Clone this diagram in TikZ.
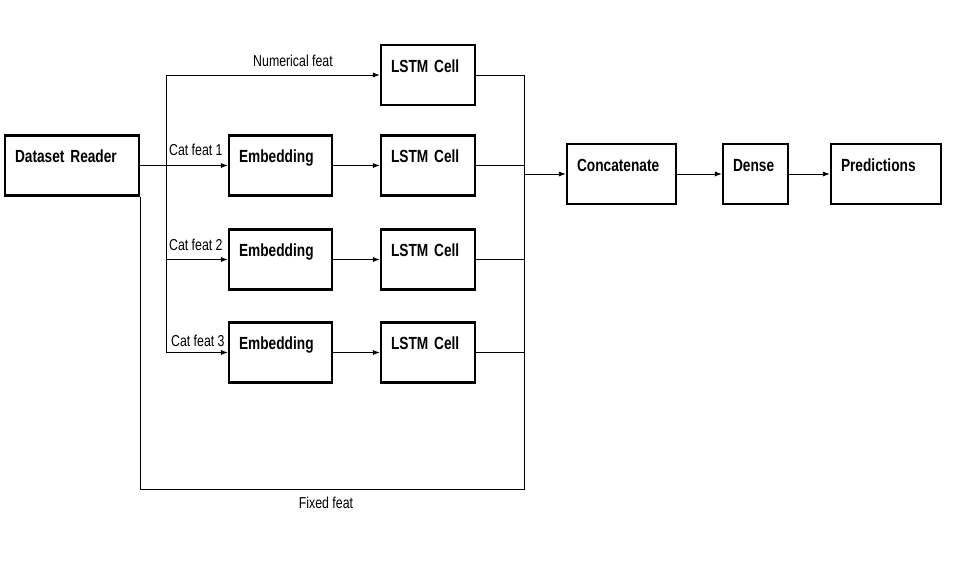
\documentclass[tikz,border=0pt]{standalone}
\usepackage{fontspec}
\setmainfont{Liberation Sans}[FakeStretch=0.78]
\usetikzlibrary{arrows.meta}
\tikzset{
  box/.style={draw,line width=1.4pt,rectangle,align=left,font=\bfseries\fontsize{10}{12}\selectfont,
    inner xsep=0.2cm,inner ysep=0pt,text height=0.54cm,text depth=0.66cm},
  lbl/.style={font=\fontsize{9}{10.5}\selectfont,inner sep=1pt},
  arr/.style={-{Latex[length=4pt,width=3pt]},line width=0.5pt},
  wire/.style={line width=0.5pt}
}
\begin{document}
\begin{tikzpicture}[x=0.02cm,y=-0.02cm]
        \useasboundingbox (0,0) rectangle (960,561);
        \path
        (72,165.5) node[box,text width=2.28cm](dr) {Dataset Reader}
        (428,75) node[box,text width=1.48cm](lstm0) {LSTM Cell}
        (280.5,165.5) node[box,text width=1.66cm](emb1) {Embedding}
        (428,165.5) node[box,text width=1.48cm](lstm1) {LSTM Cell}
        (280.5,259.5) node[box,text width=1.66cm](emb2) {Embedding}
        (428,259.5) node[box,text width=1.48cm](lstm2) {LSTM Cell}
        (280.5,352.5) node[box,text width=1.66cm](emb3) {Embedding}
        (428,352.5) node[box,text width=1.48cm](lstm3) {LSTM Cell}
        (621.5,174) node[box,text width=1.78cm](cc) {Concatenate}
        (755.5,174) node[box,text width=0.9cm](dense) {Dense}
        (886,174) node[box,text width=1.8cm](pred) {Predictions}
        ;
        \coordinate (lb-t) at (166,75);
        \coordinate (lb-1) at (166,165.5);
        \coordinate (lb-2) at (166,259.5);
        \coordinate (lb-3) at (166,352.5);
        \coordinate (rb-t) at (524,75);
        \coordinate (rb-c) at (524,174);
        \coordinate (rb-b) at (524,489);

        % inputs
        \draw[wire] (lb-t) -- (lb-3);
        \draw[arr] (lb-t) -- (lstm0.west);
        \node[lbl] (numf) at (293,61) {Numerical feat};
        \draw[arr] (dr.east) -- (emb1.west);
        \draw[arr] (lb-2) -- (emb2.west);
        \draw[arr] (lb-3) -- (emb3.west);
        \node[lbl,anchor=west] (cf1) at (167,150) {Cat feat 1};
        \node[lbl,anchor=west] (cf2) at (167,245) {Cat feat 2};
        \node[lbl,anchor=west] (cf3) at (169,341) {Cat feat 3};

        \draw[arr] (emb1) -- (lstm1);
        \draw[arr] (emb2) -- (lstm2);
        \draw[arr] (emb3) -- (lstm3);

        % outputs
        \draw[wire] (lstm0.east) -- (rb-t) -- (rb-b) -| (dr.south east);
        \node[lbl] (fixf) at (326,503) {Fixed feat};
        \draw[wire] (lstm1.east) -- (lstm1.east -| rb-t);
        \draw[wire] (lstm2.east) -- (lstm2.east -| rb-t);
        \draw[wire] (lstm3.east) -- (lstm3.east -| rb-t);
        \draw[arr] (rb-c) -- (cc.west);
        \draw[arr] (cc) -- (dense);
        \draw[arr] (dense) -- (pred);
      \end{tikzpicture}
\end{document}
